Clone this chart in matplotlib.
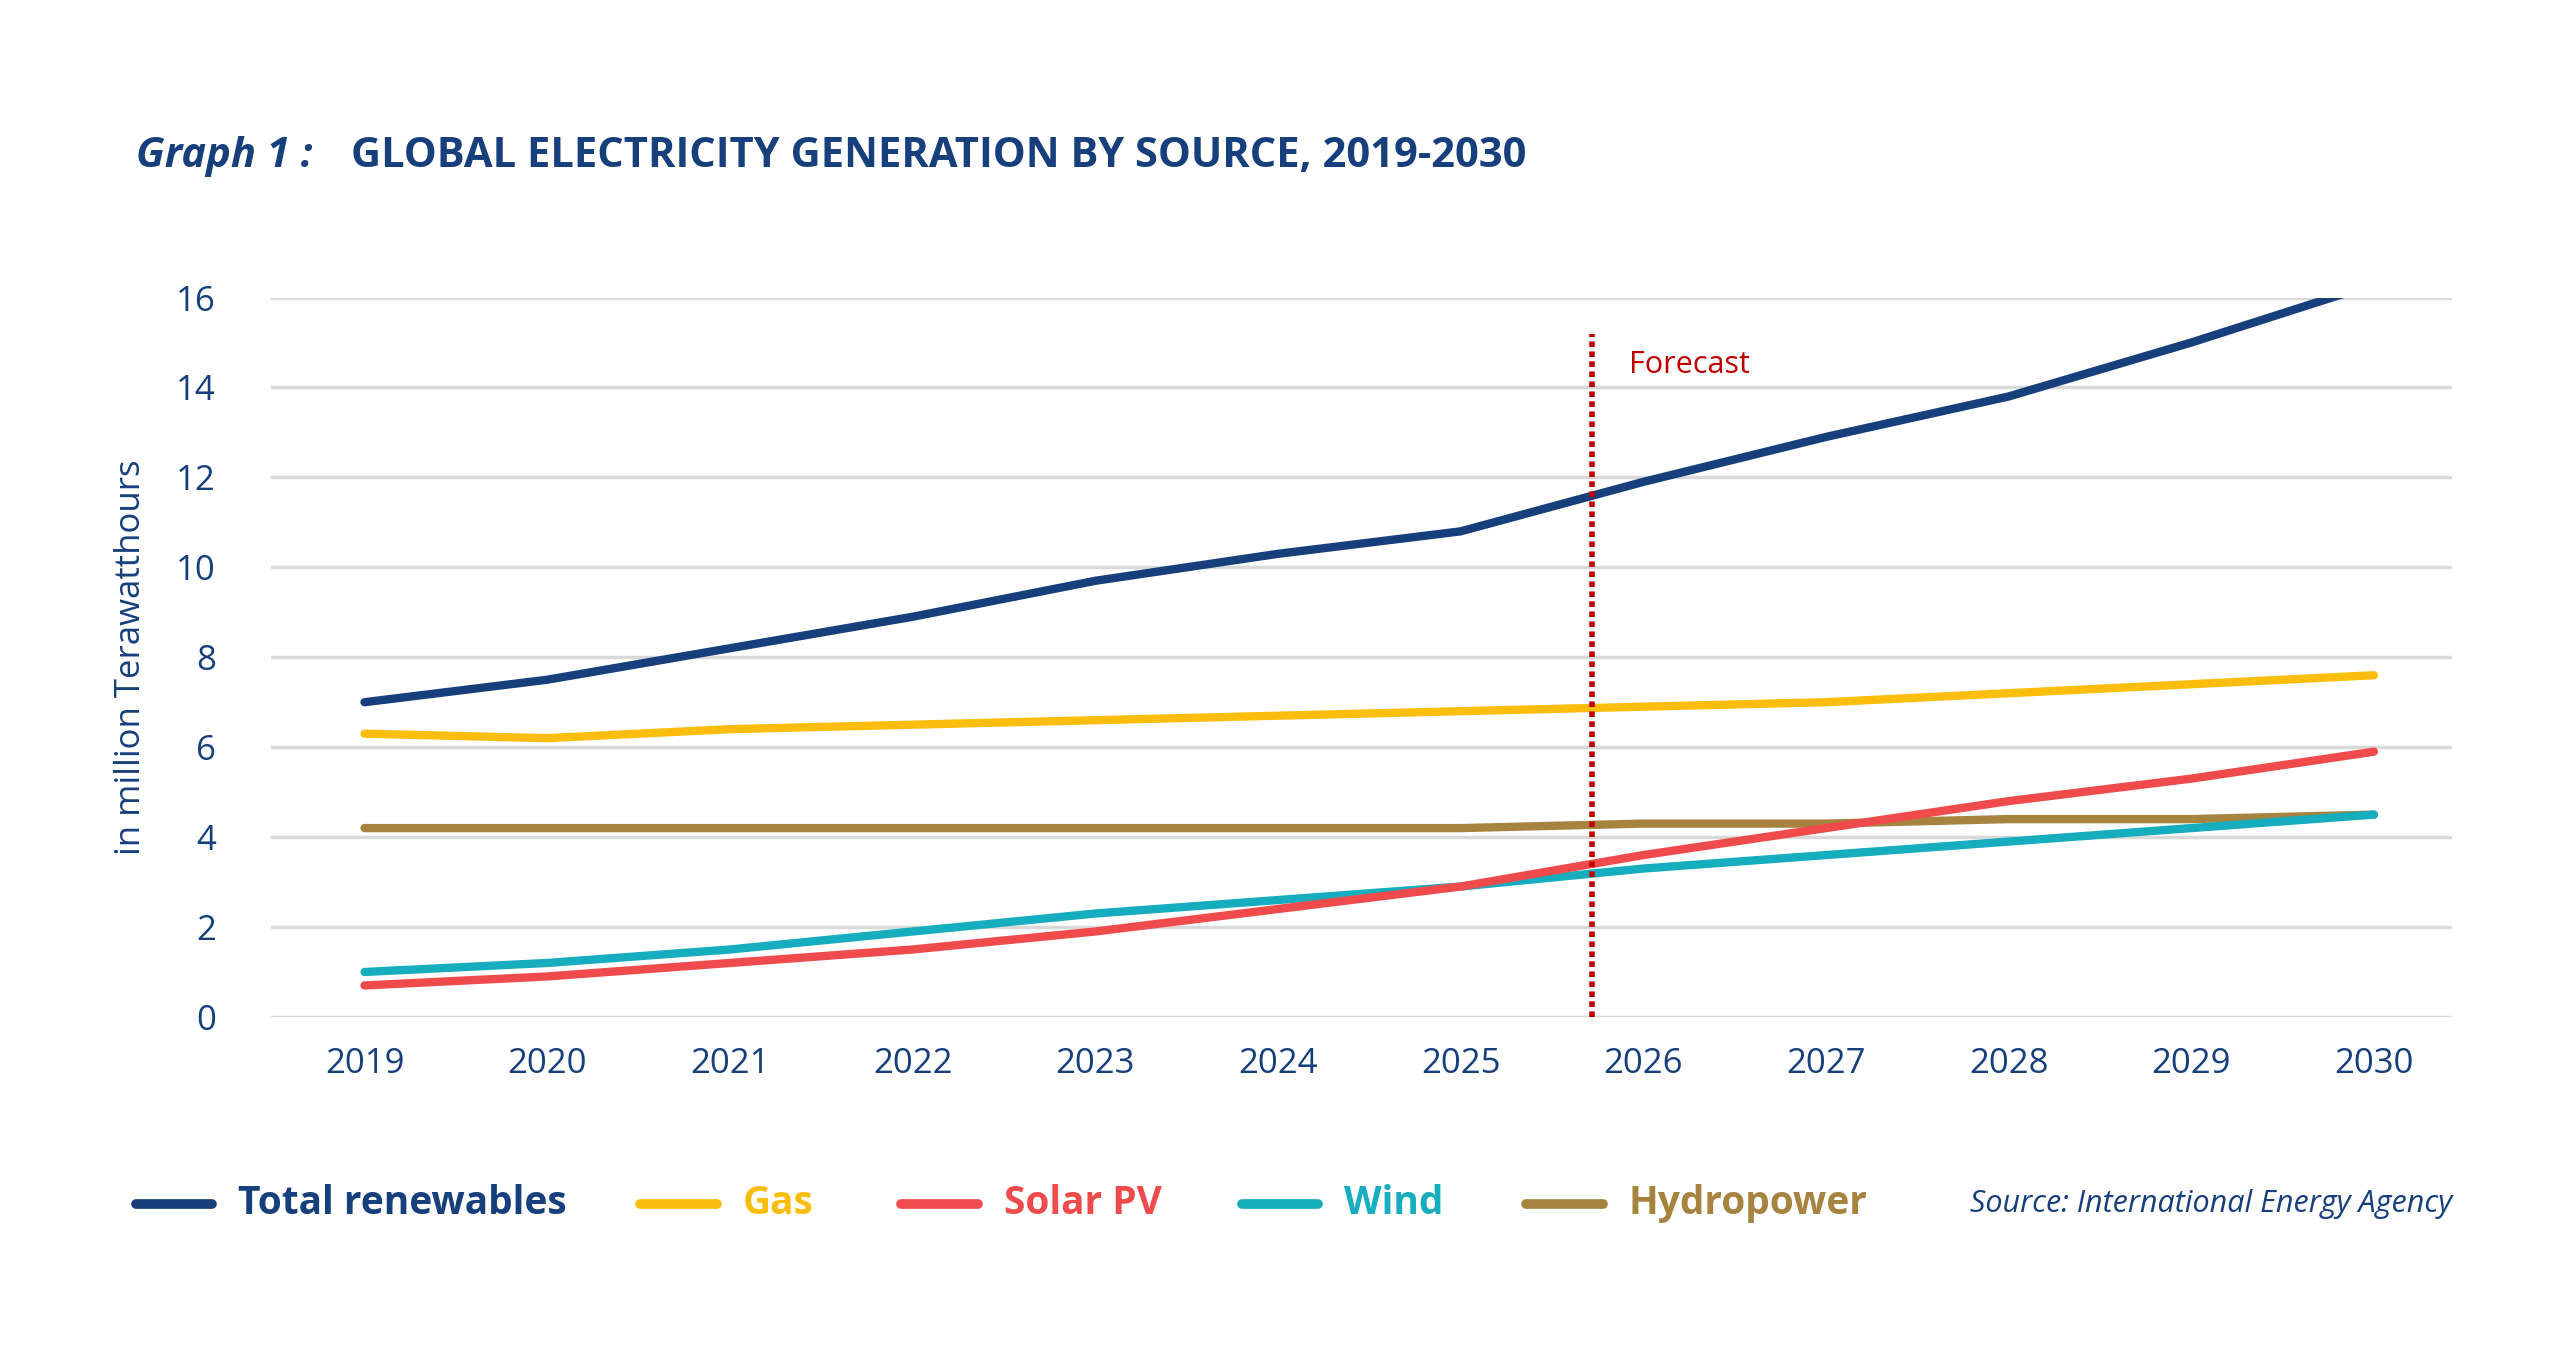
import matplotlib.pyplot as plt
from matplotlib.lines import Line2D

years = list(range(2019, 2031))
total = [7.0, 7.5, 8.2, 8.9, 9.7, 10.3, 10.8, 11.9, 12.9, 13.8, 15.0, 16.3]
gas = [6.3, 6.2, 6.4, 6.5, 6.6, 6.7, 6.8, 6.9, 7.0, 7.2, 7.4, 7.6]
solar = [0.7, 0.9, 1.2, 1.5, 1.9, 2.4, 2.9, 3.6, 4.2, 4.8, 5.3, 5.9]
wind = [1.0, 1.2, 1.5, 1.9, 2.3, 2.6, 2.9, 3.3, 3.6, 3.9, 4.2, 4.5]
hydro = [4.2, 4.2, 4.2, 4.2, 4.2, 4.2, 4.2, 4.3, 4.3, 4.4, 4.4, 4.5]
forecast_x = 2025.72

navy = '#173f7c'
series = [
    ('Total renewables', total, navy),
    ('Gas', gas, '#fbbd0e'),
    ('Solar PV', solar, '#f04b4c'),
    ('Wind', wind, '#16adbf'),
    ('Hydropower', hydro, '#a6833f'),
]

plt.rcParams['font.family'] = ['Open Sans', 'DejaVu Sans']
fig = plt.figure(figsize=(25.6, 13.65), dpi=100)
ax = fig.add_axes([0.106, 0.255, 0.852, 0.527])

for y in range(0, 17, 2):
    ax.axhline(y, color='#d9d9d9', lw=2.5, zorder=0)
# draw order: hydro below others as in reference
for name, vals, col in [series[4], series[1], series[3], series[2], series[0]]:
    ax.plot(years, vals, color=col, lw=6, solid_capstyle='round', zorder=3)

ax.axvline(forecast_x, ymin=0, ymax=15.2 / 16, color='#c00000', lw=4,
           linestyle=(0, (1, 0.8)), zorder=4)
ax.text(forecast_x + 0.2, 14.5, 'Forecast', color='#c00000', fontsize=22, va='center')

ax.set_xlim(2018.49, 2030.43)
ax.set_ylim(0, 16)
ax.set_xticks(years)
ax.set_yticks(range(0, 17, 2))
ax.tick_params(length=0, labelsize=25, colors=navy, pad=22)
ax.tick_params(axis='y', pad=40)
for s in ax.spines.values():
    s.set_visible(False)
ax.set_ylabel('in million Terawatthours', fontsize=25, color=navy, labelpad=20)

fig.text(0.053, 0.885, 'Graph 1 :', fontsize=30, fontweight='bold', style='italic',
         color=navy, va='center')
fig.text(0.137, 0.885, 'GLOBAL ELECTRICITY GENERATION BY SOURCE, 2019-2030', fontsize=30,
         fontweight='bold', color=navy, va='center')

# legend row
ly = 0.118
lx = [0.053, 0.25, 0.352, 0.485, 0.596]
for (name, vals, col), x in zip(series, lx):
    fig.add_artist(Line2D([x, x + 0.03], [ly, ly], color=col, lw=7,
                          solid_capstyle='round', transform=fig.transFigure))
    fig.text(x + 0.04, ly, name, color=col, fontsize=28, fontweight='bold', va='center')
fig.text(0.958, ly, 'Source: International Energy Agency', color=navy, fontsize=22,
         style='italic', ha='right', va='center')

fig.savefig('out.png', dpi=100, facecolor='white')
plt.close(fig)
